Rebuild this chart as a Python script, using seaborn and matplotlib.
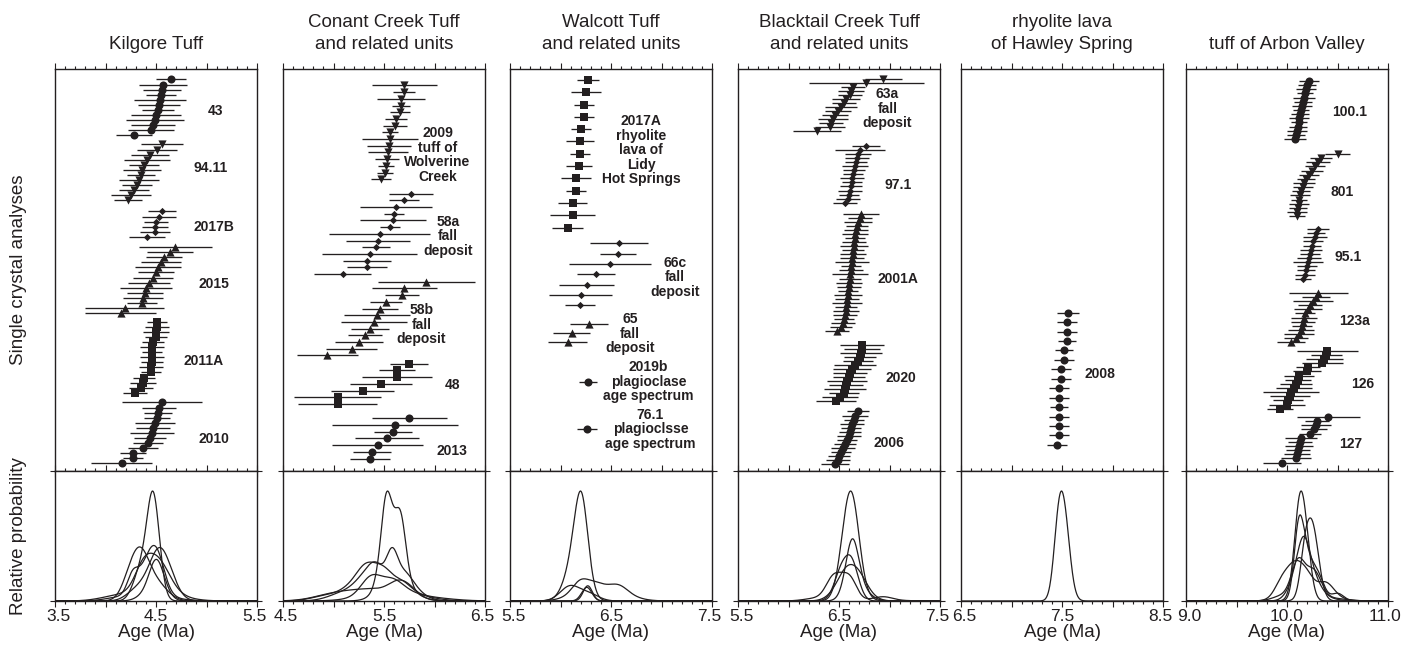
import numpy as np
import matplotlib
matplotlib.use("Agg")
import matplotlib.pyplot as plt
from matplotlib.ticker import MultipleLocator
from matplotlib.transforms import ScaledTranslation
import seaborn as sns

INK = "#231f20"

# ---------------- single crystal ages (Ma) and error half-widths ----------------
# Kilgore Tuff
k43_age = [4.65, 4.57, 4.56, 4.55, 4.54, 4.53, 4.52, 4.50, 4.49, 4.47, 4.45, 4.28]
k43_err = [0.15, 0.24, 0.19, 0.15, 0.26, 0.21, 0.16, 0.25, 0.29, 0.22, 0.23, 0.18]
k9411_age = [4.56, 4.51, 4.44, 4.41, 4.38, 4.36, 4.35, 4.33, 4.31, 4.28, 4.25, 4.22]
k9411_err = [0.21, 0.20, 0.19, 0.23, 0.15, 0.19, 0.14, 0.20, 0.15, 0.15, 0.20, 0.14]
k2017b_age = [4.56, 4.53, 4.50, 4.49, 4.49, 4.41]
k2017b_err = [0.14, 0.17, 0.12, 0.13, 0.15, 0.18]
k2015_age = [4.69, 4.64, 4.58, 4.55, 4.52, 4.50, 4.47, 4.43, 4.40, 4.39, 4.37, 4.36, 4.19, 4.15]
k2015_err = [0.36, 0.23, 0.18, 0.20, 0.23, 0.18, 0.20, 0.21, 0.26, 0.18, 0.20, 0.15, 0.39, 0.35]
k2011a_age = [4.51, 4.51, 4.50, 4.50, 4.47, 4.46, 4.46, 4.46, 4.46, 4.45, 4.45, 4.38, 4.37, 4.35, 4.29]
k2011a_err = [0.10, 0.12, 0.13, 0.11, 0.11, 0.12, 0.10, 0.12, 0.11, 0.12, 0.10, 0.11, 0.13, 0.12, 0.12]
k2010_age = [4.56, 4.53, 4.52, 4.51, 4.49, 4.47, 4.46, 4.44, 4.42, 4.37, 4.27, 4.27, 4.16]
k2010_err = [0.40, 0.17, 0.14, 0.13, 0.20, 0.17, 0.22, 0.16, 0.15, 0.15, 0.13, 0.10, 0.30]

# Conant Creek Tuff and related units
c2009_age = [5.70, 5.70, 5.67, 5.67, 5.66, 5.62, 5.61, 5.56, 5.56, 5.55, 5.54, 5.53, 5.52, 5.51, 5.47]
c2009_err = [0.32, 0.11, 0.24, 0.09, 0.10, 0.11, 0.12, 0.08, 0.28, 0.22, 0.20, 0.12, 0.08, 0.08, 0.10]
c58a_age = [5.77, 5.70, 5.62, 5.60, 5.59, 5.56, 5.46, 5.44, 5.42, 5.36, 5.33, 5.33, 5.09]
c58a_err = [0.22, 0.15, 0.36, 0.10, 0.33, 0.10, 0.50, 0.32, 0.14, 0.47, 0.24, 0.20, 0.28]
c58b_age = [5.92, 5.70, 5.68, 5.52, 5.46, 5.43, 5.40, 5.36, 5.31, 5.25, 5.18, 4.94]
c58b_err = [0.48, 0.32, 0.17, 0.16, 0.18, 0.33, 0.33, 0.19, 0.17, 0.24, 0.25, 0.30]
c48_age = [5.75, 5.63, 5.63, 5.47, 5.29, 5.04, 5.04]
c48_err = [0.19, 0.18, 0.35, 0.31, 0.31, 0.43, 0.39]
c2013_age = [5.75, 5.61, 5.59, 5.53, 5.44, 5.38, 5.36]
c2013_err = [0.37, 0.62, 0.19, 0.32, 0.45, 0.19, 0.20]

# Walcott Tuff and related units
w2017a_age = [6.27, 6.25, 6.23, 6.23, 6.20, 6.19, 6.19, 6.18, 6.15, 6.15, 6.12, 6.12, 6.07]
w2017a_err = [0.11, 0.15, 0.10, 0.10, 0.10, 0.14, 0.10, 0.13, 0.15, 0.10, 0.14, 0.22, 0.15]
w66c_age = [6.58, 6.57, 6.49, 6.35, 6.26, 6.20, 6.19]
w66c_err = [0.29, 0.18, 0.41, 0.19, 0.27, 0.31, 0.15]
w65_age = [6.28, 6.11, 6.07]
w65_err = [0.19, 0.18, 0.19]
w2019b_age = [6.27]
w2019b_err = [0.09]
w761_age = [6.26]
w761_err = [0.10]

# Blacktail Creek Tuff and related units
b63a_age = [6.94, 6.77, 6.64, 6.62, 6.61, 6.57, 6.55, 6.52, 6.49, 6.46, 6.44, 6.42, 6.41, 6.28]
b63a_err = [0.18, 0.57, 0.12, 0.13, 0.12, 0.14, 0.12, 0.16, 0.13, 0.13, 0.15, 0.12, 0.15, 0.24]
b971_age = [6.77, 6.71, 6.69, 6.68, 6.67, 6.66, 6.65, 6.64, 6.63, 6.63, 6.62, 6.61, 6.60, 6.59, 6.56]
b971_err = [0.14, 0.25, 0.13, 0.12, 0.11, 0.13, 0.11, 0.10, 0.12, 0.10, 0.11, 0.12, 0.10, 0.12, 0.12]
b2001a_age = [6.72, 6.71, 6.69, 6.68, 6.67, 6.66, 6.66, 6.65, 6.65, 6.64, 6.64, 6.63, 6.63, 6.62, 6.62,
              6.61, 6.61, 6.60, 6.60, 6.59, 6.59, 6.58, 6.58, 6.57, 6.57, 6.56, 6.55, 6.54, 6.52, 6.48]
b2001a_err = [0.18, 0.12, 0.14, 0.11, 0.12, 0.13, 0.10, 0.12, 0.14, 0.11, 0.13, 0.12, 0.17, 0.10, 0.12,
              0.18, 0.11, 0.13, 0.12, 0.10, 0.14, 0.12, 0.15, 0.11, 0.13, 0.12, 0.10, 0.12, 0.11, 0.12]
b2020_age = [6.73, 6.73, 6.72, 6.71, 6.69, 6.66, 6.63, 6.61, 6.60, 6.58, 6.57, 6.56, 6.55, 6.51, 6.47]
b2020_err = [0.22, 0.18, 0.21, 0.16, 0.15, 0.21, 0.19, 0.17, 0.16, 0.20, 0.17, 0.21, 0.15, 0.18, 0.20]
b2006_age = [6.69, 6.66, 6.65, 6.63, 6.62, 6.61, 6.60, 6.58, 6.56, 6.54, 6.52, 6.50, 6.49, 6.46]
b2006_err = [0.11, 0.13, 0.10, 0.12, 0.10, 0.11, 0.12, 0.10, 0.11, 0.12, 0.10, 0.11, 0.12, 0.14]

# rhyolite lava of Hawley Spring
h2008_age = [7.56, 7.55, 7.55, 7.55, 7.52, 7.52, 7.49, 7.49, 7.47, 7.47, 7.47, 7.47, 7.47, 7.47, 7.45]
h2008_err = [0.11, 0.10, 0.10, 0.085, 0.085, 0.10, 0.10, 0.10, 0.10, 0.10, 0.09, 0.10, 0.10, 0.10, 0.10]

# tuff of Arbon Valley
a1001_age = [10.22, 10.20, 10.19, 10.18, 10.17, 10.16, 10.15, 10.14, 10.13, 10.12, 10.12, 10.11, 10.10, 10.09, 10.08]
a1001_err = [0.10, 0.09, 0.10, 0.08, 0.11, 0.09, 0.10, 0.08, 0.09, 0.10, 0.08, 0.09, 0.10, 0.09, 0.11]
a801_age = [10.50, 10.34, 10.31, 10.28, 10.25, 10.22, 10.19, 10.17, 10.16, 10.14, 10.13, 10.12, 10.12, 10.11, 10.10, 10.10]
a801_err = [0.12, 0.11, 0.12, 0.10, 0.11, 0.10, 0.09, 0.11, 0.10, 0.09, 0.10, 0.08, 0.10, 0.09, 0.10, 0.08]
a951_age = [10.31, 10.29, 10.28, 10.26, 10.25, 10.24, 10.23, 10.22, 10.21, 10.20, 10.19, 10.18, 10.16]
a951_err = [0.11, 0.09, 0.12, 0.10, 0.09, 0.11, 0.10, 0.12, 0.15, 0.10, 0.09, 0.10, 0.08]
a123a_age = [10.31, 10.29, 10.26, 10.23, 10.21, 10.18, 10.17, 10.16, 10.15, 10.14, 10.12, 10.09, 10.04]
a123a_err = [0.29, 0.14, 0.20, 0.12, 0.14, 0.10, 0.13, 0.12, 0.10, 0.13, 0.15, 0.12, 0.14]
a126_age = [10.40, 10.39, 10.37, 10.35, 10.21, 10.20, 10.12, 10.11, 10.09, 10.07, 10.04, 10.03, 10.01, 10.00, 9.93]
a126_err = [0.30, 0.15, 0.18, 0.20, 0.12, 0.14, 0.15, 0.13, 0.16, 0.18, 0.28, 0.20, 0.15, 0.18, 0.13]
a127_age = [10.41, 10.30, 10.29, 10.27, 10.23, 10.14, 10.13, 10.12, 10.11, 10.10, 10.09, 9.95]
a127_err = [0.31, 0.12, 0.15, 0.13, 0.11, 0.16, 0.12, 0.14, 0.12, 0.13, 0.15, 0.19]

# tick labels along each age axis (major ticks every 0.5 Ma)
kilgore_ticks = ["3.5", "", "4.5", "", "5.5"]
conant_ticks = ["4.5", "", "5.5", "", "6.5"]
walcott_ticks = ["5.5", "", "6.5", "", "7.5"]
blacktail_ticks = ["5.5", "", "6.5", "", "7.5"]
hawley_ticks = ["6.5", "", "7.5", "", "8.5"]
arbon_ticks = ["9.0", "", "10.0", "", "11.0"]


def build_panels():
    # layout: gaps between groups in row units, row step, label anchor, data extent fractions
    return [
        dict(title="Kilgore Tuff", xmin=3.5, ticks=kilgore_ticks, left=55,
             groups=[("43", k43_age, k43_err, "o"), ("94.11", k9411_age, k9411_err, "v"),
                     ("2017B", k2017b_age, k2017b_err, "D"), ("2015", k2015_age, k2015_err, "^"),
                     ("2011A", k2011a_age, k2011a_err, "s"), ("2010", k2010_age, k2010_err, "o")],
             gaps=[0, 1.8, 2.2, 2.0, 1.7, 1.9], steps=None,
             label_x=[5.09, 5.04, 5.07, 5.07, 4.97, 5.07], label_row=[6.2, 4.7, 3.0, 7.3, 7.7, 7.3],
             frac=(0.026, 0.019)),
        dict(title="Conant Creek Tuff\nand related units", xmin=4.5, ticks=conant_ticks, left=283,
             groups=[("2009\ntuff of\nWolverine\nCreek", c2009_age, c2009_err, "v"),
                     ("58a\nfall\ndeposit", c58a_age, c58a_err, "D"),
                     ("58b\nfall\ndeposit", c58b_age, c58b_err, "^"),
                     ("48", c48_age, c48_err, "s"), ("2013", c2013_age, c2013_err, "o")],
             gaps=[0, 2.15, 1.15, 1.25, 2.15], steps=None,
             label_x=[6.03, 6.13, 5.87, 6.18, 6.17], label_row=[10.4, 6.35, 6.45, 3.15, 4.85],
             frac=(0.041, 0.031)),
        dict(title="Walcott Tuff\nand related units", xmin=5.5, ticks=walcott_ticks, left=510,
             groups=[("2017A\nrhyolite\nlava of\nLidy\nHot Springs", w2017a_age, w2017a_err, "s"),
                     ("66c\nfall\ndeposit", w66c_age, w66c_err, "D"),
                     ("65\nfall\ndeposit", w65_age, w65_err, "^"),
                     ("2019b\nplagioclase\nage spectrum", w2019b_age, w2019b_err, "o"),
                     ("76.1\nplagioclsse\nage spectrum", w761_age, w761_err, "o")],
             gaps=[0, 1.42, 1.67, 3.58, 4.30], steps=[1.12, 0.94, 0.85, 1, 1],
             label_x=[6.80, 7.13, 6.69, 6.87, 6.89], label_row=[5.7, 3.3, 1.07, 0, 0],
             frac=(0.027, 0.104)),
        dict(title="Blacktail Creek Tuff\nand related units", xmin=5.5, ticks=blacktail_ticks, left=738,
             groups=[("63a\nfall\ndeposit", b63a_age, b63a_err, "v"), ("97.1", b971_age, b971_err, "D"),
                     ("2001A", b2001a_age, b2001a_err, "^"), ("2020", b2020_age, b2020_err, "s"),
                     ("2006", b2006_age, b2006_err, "o")],
             gaps=[0, 3.6, 2.7, 3.3, 2.5], steps=None,
             label_x=[6.98, 7.09, 7.08, 7.11, 6.99], label_row=[7.4, 9.6, 16.1, 8.3, 7.7],
             frac=(0.024, 0.017)),
        dict(title="rhyolite lava\nof Hawley Spring", xmin=6.5, ticks=hawley_ticks, left=961,
             groups=[("2008", h2008_age, h2008_err, "o")],
             gaps=[0], steps=None, label_x=[7.88], label_row=[6.5],
             frac=(0.606, 0.065)),
        dict(title="tuff of Arbon Valley", xmin=9.0, ticks=arbon_ticks, left=1186,
             groups=[("100.1", a1001_age, a1001_err, "o"), ("801", a801_age, a801_err, "v"),
                     ("95.1", a951_age, a951_err, "D"), ("123a", a123a_age, a123a_err, "^"),
                     ("126", a126_age, a126_err, "s"), ("127", a127_age, a127_err, "o")],
             gaps=[0, 3.6, 3.1, 3.4, 2.0, 2.0], steps=None,
             label_x=[10.62, 10.55, 10.61, 10.67, 10.75, 10.63], label_row=[7.5, 9.3, 6.8, 6.9, 8.0, 6.6],
             frac=(0.030, 0.021)),
    ]


MARKER_PT = {"o": 5.8, "v": 5.9, "^": 5.9, "s": 6.0, "D": 3.7}


def row_positions(groups, gaps, steps):
    if steps is None:
        steps = [1.0] * len(groups)
    rows, starts = [], []
    cur = 0.0
    for i, (g, gap, step) in enumerate(zip(groups, gaps, steps)):
        if i > 0:
            cur += gap
        starts.append(cur)
        y = cur + np.arange(len(g[1])) * step
        rows.append(y)
        cur = y[-1]
    return rows, starts, steps


def prob_curve(grid, ages, errs):
    # summed gaussians, error bars taken as 2 sigma
    a = np.asarray(ages)[:, None]
    s = np.asarray(errs)[:, None] / 2.0
    return (np.exp(-0.5 * ((grid - a) / s) ** 2) / (s * np.sqrt(2 * np.pi))).sum(axis=0)


def style_xaxis(ax, xmin, ticks, labels):
    ax.set_xlim(xmin, xmin + 2.0)
    ax.set_xticks(np.arange(len(ticks)) * 0.5 + xmin)
    ax.set_xticklabels(ticks if labels else [""] * len(ticks))
    ax.xaxis.set_minor_locator(MultipleLocator(0.1))
    ax.tick_params(axis="x", which="both", top=True, bottom=True, direction="out",
                   color=INK, width=0.8, labelsize=12.5, labelcolor=INK, pad=2)
    ax.tick_params(axis="x", which="major", length=4.0)
    ax.tick_params(axis="x", which="minor", length=2.0)
    for sp in ax.spines.values():
        sp.set_color(INK)
        sp.set_linewidth(1.0)


def nudge_edge_labels(fig, ax):
    # end labels sit a little inside the frame, as in the source figure
    ticks = ax.xaxis.get_major_ticks()
    shift = 3.0 / fig.dpi
    ticks[0].label1.set_transform(ticks[0].label1.get_transform()
                                  + ScaledTranslation(shift, 0, fig.dpi_scale_trans))
    ticks[-1].label1.set_transform(ticks[-1].label1.get_transform()
                                   + ScaledTranslation(-shift, 0, fig.dpi_scale_trans))


def plot_panel(fig, p):
    W, H = 1420.0, 646.0
    left = p["left"] / W
    width = 202 / W
    ax = fig.add_axes([left, (H - 471) / H, width, 402 / H])
    axb = fig.add_axes([left, (H - 601) / H, width, 130 / H])

    rows, starts, steps = row_positions(p["groups"], p["gaps"], p["steps"])
    grid = np.linspace(p["xmin"], p["xmin"] + 2.0, 800)
    curves = []
    for (name, age, err, mk), ys, y0, st, lx, lr in zip(p["groups"], rows, starts, steps,
                                                         p["label_x"], p["label_row"]):
        age = np.asarray(age)
        err = np.asarray(err)
        ax.hlines(ys, age - err, age + err, color=INK, lw=0.95, zorder=2)
        sns.scatterplot(x=age, y=ys, ax=ax, marker=mk, s=MARKER_PT[mk] ** 2,
                        color=INK, linewidth=0, zorder=3, legend=False)
        ax.text(lx, y0 + lr * st, name, ha="center", va="center", ma="center",
                fontsize=10, fontweight="bold", color=INK, linespacing=1.05)
        curves.append(prob_curve(grid, age, err))

    last = rows[-1][-1]
    ft, fb = p["frac"]
    span = last / (1 - ft - fb)
    ax.set_ylim(last + fb * span, -ft * span)
    ax.set_yticks([])
    ax.set_ylabel("")
    style_xaxis(ax, p["xmin"], p["ticks"], labels=False)

    top = max(c.max() for c in curves) / 0.846
    for c in curves:
        sns.lineplot(x=grid, y=c, ax=axb, color=INK, lw=0.9, estimator=None, legend=False)
    axb.set_ylim(0, top)
    axb.set_yticks([0, top])
    axb.set_yticklabels([])
    axb.tick_params(axis="y", left=True, right=True, direction="out", length=3.5,
                    width=0.8, color=INK)
    axb.set_ylabel("")
    style_xaxis(axb, p["xmin"], p["ticks"], labels=True)
    nudge_edge_labels(fig, axb)
    axb.set_xlabel("Age (Ma)", fontsize=13.5, color=INK, labelpad=0)

    fig.text((p["left"] + 101) / W, 1 - 53 / H, p["title"], ha="center", va="bottom",
             ma="center", fontsize=13.5, color=INK, linespacing=1.35)
    return ax, axb


def main():
    sns.set_style("ticks")
    plt.rcParams["font.family"] = ["Liberation Sans", "DejaVu Sans"]
    fig = plt.figure(figsize=(14.2, 6.46), dpi=100)

    for p in build_panels():
        plot_panel(fig, p)

    fig.text(19 / 1420, 1 - 270 / 646, "Single crystal analyses", rotation=90,
             ha="center", va="center", fontsize=13.5, color=INK)
    fig.text(19 / 1420, 1 - 536 / 646, "Relative probability", rotation=90,
             ha="center", va="center", fontsize=13.5, color=INK)

    fig.savefig("out.png", dpi=100)
    plt.close(fig)


if __name__ == "__main__":
    main()
